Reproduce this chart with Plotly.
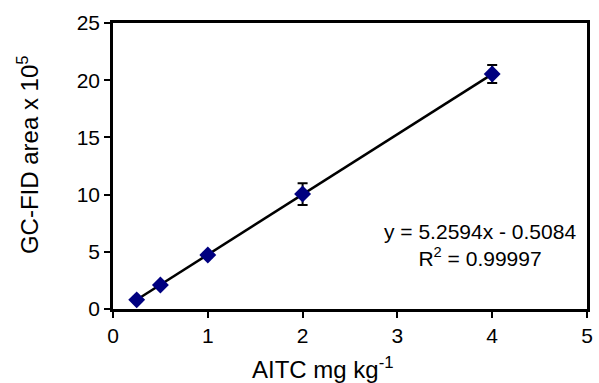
import plotly.graph_objects as go

# Data
conc = [0.25, 0.5, 1, 2, 4]
area = [0.80, 2.10, 4.72, 10.05, 20.54]
err = [0.15, 0.15, 0.2, 0.95, 0.78]
slope = 5.2594
intercept = -0.5084
eq_text = "y = 5.2594x - 0.5084<br>R<sup>2</sup> = 0.99997"
x_ticks = [0, 1, 2, 3, 4, 5]
y_ticks = [0, 5, 10, 15, 20, 25]

FONT = "Liberation Sans, Arial, sans-serif"

fit_x = [min(conc), max(conc)]
fit_y = [slope * v + intercept for v in fit_x]

fig = go.Figure()
fig.add_trace(go.Scatter(x=fit_x, y=fit_y, mode="lines",
                         line=dict(color="black", width=2.5), showlegend=False,
                         hoverinfo="skip"))
fig.add_trace(go.Scatter(x=conc, y=area, mode="markers",
                         marker=dict(symbol="diamond", size=13, color="#000080"),
                         error_y=dict(type="data", array=err, visible=True,
                                      color="black", thickness=2, width=5),
                         showlegend=False))

fig.update_layout(
    width=599, height=383,
    margin=dict(l=113, r=6, t=23, b=74),
    paper_bgcolor="white", plot_bgcolor="white",
    font=dict(family=FONT, size=21, color="black"),
    xaxis=dict(range=[0, 5], tickvals=x_ticks, showline=True, linecolor="black",
               linewidth=2.5, mirror=True, ticks="outside", ticklen=6,
               tickwidth=2, tickcolor="black", showgrid=False, zeroline=False,
               tickfont=dict(size=21)),
    yaxis=dict(range=[0, 25], tickvals=y_ticks, showline=True, linecolor="black",
               linewidth=2.5, mirror=True, ticks="outside", ticklen=6,
               tickwidth=2, tickcolor="black", showgrid=False, zeroline=False,
               tickfont=dict(size=21)),
)

fig.add_annotation(text="AITC mg kg<sup>-1</sup>", xref="paper", yref="paper",
                   x=(326 - 113) / 480, y=-(368 - 309) / 286, showarrow=False,
                   xanchor="center", yanchor="middle", font=dict(size=24))
fig.add_annotation(text="GC-FID area x 10<sup>5</sup>", xref="paper", yref="paper",
                   x=-(113 - 27) / 480, y=(309 - 155) / 286, showarrow=False,
                   xanchor="center", yanchor="middle", textangle=-90,
                   font=dict(size=24))
fig.add_annotation(text=eq_text, xref="paper", yref="paper",
                   x=(485 - 113) / 480, y=(309 - 245) / 286, showarrow=False,
                   xanchor="center", yanchor="middle", align="center",
                   font=dict(size=21))

fig.write_html("out.html")
